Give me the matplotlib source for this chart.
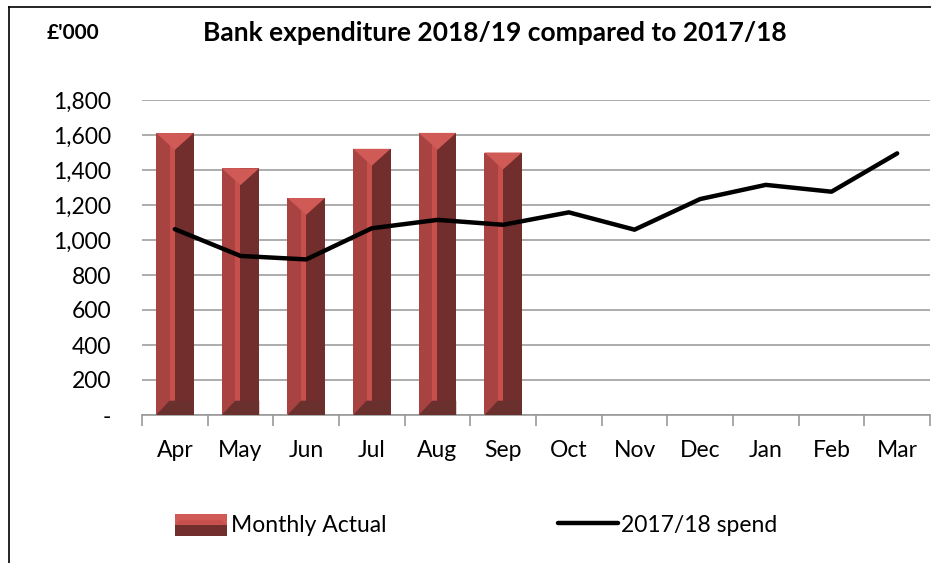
import numpy as np
import matplotlib
matplotlib.use("Agg")
import matplotlib.pyplot as plt
from matplotlib.patches import Polygon, Rectangle
from matplotlib.lines import Line2D
from matplotlib.legend_handler import HandlerBase

plt.rcParams['font.family'] = ['Lato', 'DejaVu Sans']

# data
months = ['Apr', 'May', 'Jun', 'Jul', 'Aug', 'Sep', 'Oct', 'Nov', 'Dec', 'Jan', 'Feb', 'Mar']
monthly_actual = [1611, 1410, 1240, 1521, 1612, 1500]
spend_1718 = [1062, 909, 889, 1067, 1115, 1087, 1158, 1059, 1234, 1315, 1276, 1495]
y_ticks = [0, 200, 400, 600, 800, 1000, 1200, 1400, 1600, 1800]
y_labels = ['-', '200', '400', '600', '800', '1,000', '1,200', '1,400', '1,600', '1,800']

# bevel colours
c_face = '#A84342'
c_dark = '#722E2D'
c_top = '#D05A56'
c_stripe = '#C8504C'
c_bottom = '#6A302E'

fig = plt.figure(figsize=(9.31, 5.63), dpi=100)
ax = fig.add_axes([142/931, 1 - 415/563, (930 - 142)/931, (415 - 100)/563])

x = np.arange(len(months))
w = 0.57
ax.bar(x[:len(monthly_actual)], monthly_actual, width=w, color=c_face, zorder=2)

# bevel decoration derived from each bar
# depth of the bevel in data units (about half the bar width on screen)
px_x = (930 - 142) / 12
px_y = (415 - 100) / 1800
depth = (w / 2) * px_x / px_y * 0.9
for xi, v in zip(x, monthly_actual):
    x0, x1, xc = xi - w/2, xi + w/2, xi
    ax.add_patch(Rectangle((xc, 0), w/2, v, color=c_dark, zorder=3, lw=0))
    ax.add_patch(Rectangle((xc - 0.08, 0), 0.08, v, color=c_stripe, zorder=3, lw=0))
    ax.add_patch(Polygon([(x0, 0), (xc - 0.08, depth * 0.85), (x1, depth * 0.85), (x1, 0)],
                         closed=True, color=c_bottom, zorder=4, lw=0))
    ax.add_patch(Polygon([(x0, v), (x1, v), (xc, v - depth)],
                         closed=True, color=c_top, zorder=4, lw=0))

ax.plot(x, spend_1718, color='black', lw=3.2, solid_capstyle='round', solid_joinstyle='round', zorder=5)

ax.set_xlim(-0.5, 11.5)
ax.set_ylim(0, 1800)
ax.set_yticks(y_ticks)
ax.set_yticklabels(y_labels)
ax.set_xticks(x)
ax.set_xticklabels(months)
ax.set_xticks(np.arange(-0.5, 12, 1), minor=True)
ax.tick_params(axis='x', which='major', length=0, pad=18, labelsize=16.5)
ax.tick_params(axis='x', which='minor', length=8, color='#999999', width=1.2, direction='out')
ax.tick_params(axis='y', length=0, pad=22, labelsize=16.5)
ax.grid(axis='y', color='#A6A6A6', lw=1.3, zorder=0)
ax.set_axisbelow(True)
for s in ['left', 'right', 'top']:
    ax.spines[s].set_visible(False)
ax.spines['bottom'].set_color('#999999')
ax.spines['bottom'].set_linewidth(1.2)

fig.text(495/931, 1 - 33/563, 'Bank expenditure 2018/19 compared to 2017/18',
         ha='center', va='center', fontsize=19, fontweight='bold')
fig.text(73/931, 1 - 33/563, "£'000", ha='center', va='center', fontsize=15, fontweight='bold')

# outer chart border
fig.add_artist(Line2D([9/931, 9/931], [0, 1 - 7/563], color='black', lw=1.2))
fig.add_artist(Line2D([9/931, 1], [1 - 7/563, 1 - 7/563], color='black', lw=1.2))


class BevelHandler(HandlerBase):
    def create_artists(self, legend, orig_handle, xdescent, ydescent, width, height, fontsize, trans):
        x0, y0 = -xdescent, -ydescent
        b = height * 0.2
        top = Polygon([(x0, y0 + height/2), (x0, y0 + height), (x0 + width, y0 + height),
                       (x0 + width, y0 + height/2)], closed=True, color=c_top, transform=trans, lw=0)
        bot = Rectangle((x0, y0), width, height/2, color=c_dark, transform=trans, lw=0)
        edge = Polygon([(x0, y0 + height/2), (x0 + b, y0 + height/2 + b), (x0 + width - b, y0 + height/2 + b),
                        (x0 + width, y0 + height/2)], closed=True, color=c_stripe, transform=trans, lw=0)
        return [top, bot, edge]


bar_handle = Rectangle((0, 0), 1, 1)
line_handle = Line2D([], [], color='black', lw=3.2, solid_capstyle='round')
fig.legend([bar_handle], ['Monthly Actual'], handler_map={Rectangle: BevelHandler()},
           loc='center left', bbox_to_anchor=(175/931, 1 - 525/563), frameon=False,
           fontsize=16.5, handlelength=2.25, handleheight=1.1, handletextpad=0.2,
           borderpad=0, borderaxespad=0)
fig.legend([line_handle], ['2017/18 spend'], loc='center left',
           bbox_to_anchor=(558/931, 1 - 525/563), frameon=False,
           fontsize=16.5, handlelength=2.6, handletextpad=0.15,
           borderpad=0, borderaxespad=0)

fig.savefig('out.png', dpi=100)
